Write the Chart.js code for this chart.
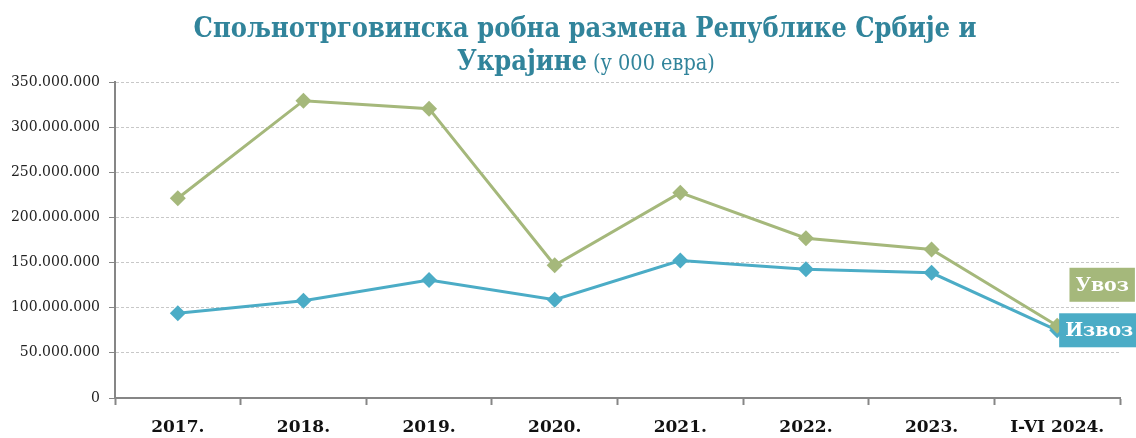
<!DOCTYPE html>
<html>
<head>
<meta charset="utf-8">
<script src="https://cdn.jsdelivr.net/npm/chart.js@4.4.1/dist/chart.umd.min.js"></script>
<style>
  html, body { margin: 0; padding: 0; background: #fff; }
  #wrap { width: 1136px; height: 438px; position: relative; }
</style>
</head>
<body>
<div id="wrap"><canvas id="tradeChart"></canvas></div>
<script>
// Chart data
const years = ['2017.', '2018.', '2019.', '2020.', '2021.', '2022.', '2023.', 'I-VI 2024.'];
const importValues = [221200000, 329300000, 320500000, 147000000, 227400000, 177000000, 164500000, 80000000]; // Увоз
const exportValues = [93800000, 107800000, 130700000, 108800000, 152300000, 142500000, 138600000, 75000000]; // Извоз
const seriesNames = ['Увоз', 'Извоз'];
const titleLine1 = 'Спољнотрговинска робна размена Републике Србије и';
const titleLine2Bold = 'Украјине';
const titleLine2Rest = '(у 000 евра)';

const GREEN = '#A5B87B';
const BLUE = '#4BACC6';
const TITLE_COLOR = '#31849B';
const AXIS_GRAY = '#868686';
const TITLE_FAMILY = '"DejaVu Serif Condensed", "Liberation Serif", serif';

// number format 350.000.000
function fmt(v) {
    return String(Math.round(v)).replace(/\B(?=(\d{3})+(?!\d))/g, '.');
}

// Title drawn by hand: second line mixes bold and regular text
const titlePlugin = {
    id: 'twoLineTitle',
    afterDraw(chart) {
        const c = chart.ctx;
        const cx = 585;
        c.save();
        c.fillStyle = TITLE_COLOR;
        c.textBaseline = 'alphabetic';
        c.font = 'bold 27px ' + TITLE_FAMILY;
        c.textAlign = 'center';
        c.fillText(titleLine1, cx, 37);

        // second line: bold part ends at split, normal part starts after a gap
        const split = 587;
        c.textAlign = 'right';
        c.font = 'bold 27px ' + TITLE_FAMILY;
        c.fillText(titleLine2Bold, split, 70);
        c.textAlign = 'left';
        c.font = '21.5px ' + TITLE_FAMILY;
        c.fillText(titleLine2Rest, split + 6, 70);
        c.restore();
    }
};

// Series name boxes next to the last point of each line
const endLabelPlugin = {
    id: 'endLabels',
    afterDatasetsDraw(chart) {
        const c = chart.ctx;
        const offsets = [{ dx: 45, dy: -41 }, { dx: 42, dy: 0 }];
        c.save();
        c.font = 'bold 19px "DejaVu Serif", serif';
        c.textAlign = 'center';
        c.textBaseline = 'middle';
        chart.data.datasets.forEach((ds, i) => {
            const meta = chart.getDatasetMeta(i);
            const pt = meta.data[meta.data.length - 1];
            const cxp = pt.x + offsets[i].dx;
            const cyp = pt.y + offsets[i].dy;
            const tw = c.measureText(ds.label).width;
            const bw = tw + 12, bh = 34;
            c.fillStyle = ds.borderColor;
            c.fillRect(cxp - bw / 2, cyp - bh / 2, bw, bh);
            c.fillStyle = '#fff';
            c.fillText(ds.label, cxp, cyp + 1);
        });
        c.restore();
    }
};

const ctx = document.getElementById('tradeChart');
new Chart(ctx, {
    type: 'line',
    data: {
        labels: years,
        datasets: [
            {
                label: seriesNames[0],
                data: importValues,
                borderColor: GREEN,
                backgroundColor: GREEN,
                borderWidth: 3,
                tension: 0,
                pointStyle: 'rectRot',
                pointRadius: 8,
                pointBorderWidth: 0,
                pointBackgroundColor: GREEN
            },
            {
                label: seriesNames[1],
                data: exportValues,
                borderColor: BLUE,
                backgroundColor: BLUE,
                borderWidth: 3,
                tension: 0,
                pointStyle: 'rectRot',
                pointRadius: 8,
                pointBorderWidth: 0,
                pointBackgroundColor: BLUE
            }
        ]
    },
    options: {
        responsive: true,
        maintainAspectRatio: false,
        animation: false,
        layout: { padding: { top: 82, right: 16, left: 0, bottom: 0 } },
        plugins: {
            legend: { display: false },
            title: { display: false },
            tooltip: { enabled: false }
        },
        scales: {
            x: {
                offset: true,
                grid: {
                    offset: true,
                    drawOnChartArea: false,
                    drawTicks: true,
                    tickLength: 7,
                    tickColor: AXIS_GRAY,
                    tickWidth: 2
                },
                border: { display: true, color: AXIS_GRAY, width: 2 },
                ticks: {
                    color: '#111',
                    padding: 12,
                    maxRotation: 0,
                    autoSkip: false,
                    font: { family: '"DejaVu Serif", serif', size: 17, weight: 'bold' }
                },
                afterFit(axis) { axis.height = 40; }
            },
            y: {
                min: 0,
                max: 350000000,
                grid: {
                    color: '#C8C8C8',
                    lineWidth: 1,
                    tickColor: AXIS_GRAY,
                    tickLength: 6,
                    tickWidth: 1
                },
                border: { display: true, color: AXIS_GRAY, width: 2, dash: [3, 2] },
                ticks: {
                    stepSize: 50000000,
                    color: '#222',
                    padding: 9,
                    font: { family: '"DejaVu Serif", serif', size: 14 },
                    callback: function (value) { return fmt(value); }
                },
                afterFit(axis) { axis.width = 115; }
            }
        }
    },
    plugins: [titlePlugin, endLabelPlugin]
});
</script>
</body>
</html>
